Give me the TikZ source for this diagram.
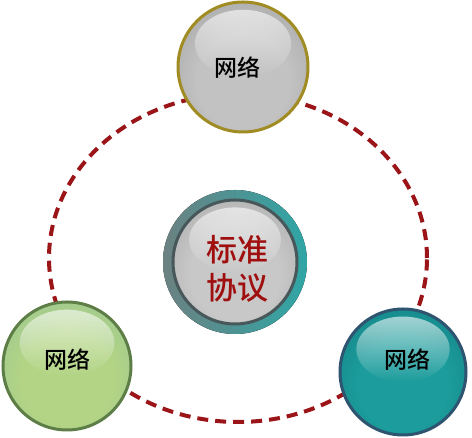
\documentclass[tikz,border=0pt]{standalone}
\usepackage{fontspec}
\newfontfamily\cjk{Noto Sans CJK SC Medium}
\usetikzlibrary{fadings}
\definecolor{dashred}{HTML}{9A1418}
\definecolor{textred}{HTML}{A00F0F}
\definecolor{olive}{HTML}{A08C22}
\definecolor{darkgreen}{HTML}{5E7E48}
\definecolor{darkteal}{HTML}{2E5470}
\definecolor{ringgray}{HTML}{6C8182}
\definecolor{ringteal}{HTML}{2FA6A6}
\definecolor{innerline}{HTML}{48585A}
\definecolor{grayin}{HTML}{C2C2C2}
\definecolor{grayout}{HTML}{8A8A8A}
\definecolor{cgrayin}{HTML}{C8C8C8}
\definecolor{cgrayout}{HTML}{929292}
\definecolor{greenin}{HTML}{B2D484}
\definecolor{greenout}{HTML}{86BAA2}
\definecolor{tealin}{HTML}{1C9C9C}
\definecolor{tealout}{HTML}{0B686E}
\pgfdeclareradialshading[ballin,ballout]{ball}{\pgfpoint{0bp}{-8bp}}{color(0bp)=(ballin); color(18bp)=(ballin); color(52bp)=(ballout)}
\newcommand\myball[7]{% name, x, y, r, inner, outer, border
  \begin{scope}
  \colorlet{ballin}{#5}\colorlet{ballout}{#6}
  \fill[shading=ball] (#2,#3) circle (#4);
  \end{scope}
  \fill[white, path fading=south, fill opacity=0.6] (#2,#3+0.36*#4) ellipse (0.74*#4 and 0.52*#4);
  \draw[#7, line width=3] (#2,#3) circle (#4);
  \node[circle, minimum size=2*#4, inner sep=0pt] (#1) at (#2,#3) {};
}
\begin{document}
\begin{tikzpicture}[x=1pt,y=1pt,
  nettext/.style={font=\cjk\fontsize{23}{26}\selectfont, text=black, inner sep=0pt},
  stdtext/.style={font=\cjk\fontsize{31}{38}\selectfont, text=textred, align=center, inner sep=0pt}]
\useasboundingbox (0,0) rectangle (472,438);
\fill[white] (0,0) rectangle (472,438);
% dashed ring
\draw[dashred, line width=4, dash pattern=on 11 off 7] (238,180) ellipse (189 and 164);
% centre sphere
\fill[left color=ringgray, right color=ringteal] (235,176) circle (72);
\myball{centre}{235}{176}{62}{cgrayin}{cgrayout}{innerline}
\node[stdtext] (std) at (237,169) {标准\\协议};
% top sphere
\myball{top}{243}{371}{65}{grayin}{grayout}{olive}
\node[nettext] (toplabel) at (237,370) {网络};
% bottom-left sphere
\myball{left}{67}{72}{64}{greenin}{greenout}{darkgreen}
\node[nettext] (leftlabel) at (68,78) {网络};
% bottom-right sphere
\myball{right}{403}{66}{63}{tealin}{tealout}{darkteal}
\node[nettext] (rightlabel) at (407,78) {网络};
\end{tikzpicture}
\end{document}
